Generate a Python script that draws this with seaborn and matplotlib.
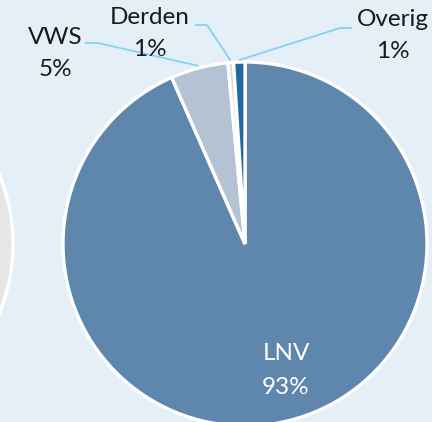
import numpy as np
import matplotlib
matplotlib.use("Agg")
import matplotlib.pyplot as plt
import seaborn as sns

# Data
categories = ["LNV", "VWS", "Derden", "Overig"]
values = [93.4, 5.1, 0.5, 1.0]
pct_labels = ["93%", "5%", "1%", "1%"]
colors = ["#5f87ad", "#b4c2d3", "#d3dde8", "#1f6a9e"]

BG = "#e5eff8"
LEADER = "#85d2f5"

sns.set_theme(style="white")
plt.rcParams["font.family"] = ["Lato", "DejaVu Sans"]

W, H = 432, 422
fig = plt.figure(figsize=(W / 100, H / 100), dpi=100, facecolor=BG)
ax = fig.add_axes([0, 0, 1, 1])
ax.set_facecolor(BG)

cx, cy, R = 245, H - 244, 182

# partial neighbouring pie on the left
ax.pie([1], colors=["#e6e6e6"], center=(-169, cy), radius=R,
       wedgeprops=dict(edgecolor="white", linewidth=2.4), frame=True)

wedges, _ = ax.pie(values, colors=colors, startangle=90, counterclock=False,
                   center=(cx, cy), radius=R,
                   wedgeprops=dict(edgecolor="white", linewidth=2.4), frame=True)
ax.set_xlim(0, W)
ax.set_ylim(0, H)
ax.set_aspect("equal")
ax.axis("off")

fs = 17.5
txt_col = "#1a1a1a"

# LNV label inside
ax.text(286, H - 354, categories[0], ha="center", va="center", color="white", fontsize=fs)
ax.text(286, H - 387, pct_labels[0], ha="center", va="center", color="white", fontsize=fs)

# outside labels: (name pos, pct pos, leader start, leader elbow)
outside = {
    1: dict(name=(55, 38), pct=(55, 70), start=(85, 43), elbow=(98, 43)),
    2: dict(name=(150, 18), pct=(150, 50), start=(195, 25), elbow=(207, 25)),
    3: dict(name=(393, 20), pct=(393, 52), start=(352, 28), elbow=(340, 28)),
}
for i, o in outside.items():
    w = wedges[i]
    mid = np.deg2rad((w.theta1 + w.theta2) / 2)
    ex = cx + (R + 2) * np.cos(mid)
    ey = cy + (R + 2) * np.sin(mid)
    xs = [o["start"][0], o["elbow"][0], ex]
    ys = [H - o["start"][1], H - o["elbow"][1], ey]
    ax.plot(xs, ys, color=LEADER, lw=1.3, solid_capstyle="butt")
    ax.text(o["name"][0], H - o["name"][1], categories[i], ha="center", va="center",
            color=txt_col, fontsize=fs)
    ax.text(o["pct"][0], H - o["pct"][1], pct_labels[i], ha="center", va="center",
            color=txt_col, fontsize=fs)

fig.savefig("out.png", dpi=100, facecolor=BG)
